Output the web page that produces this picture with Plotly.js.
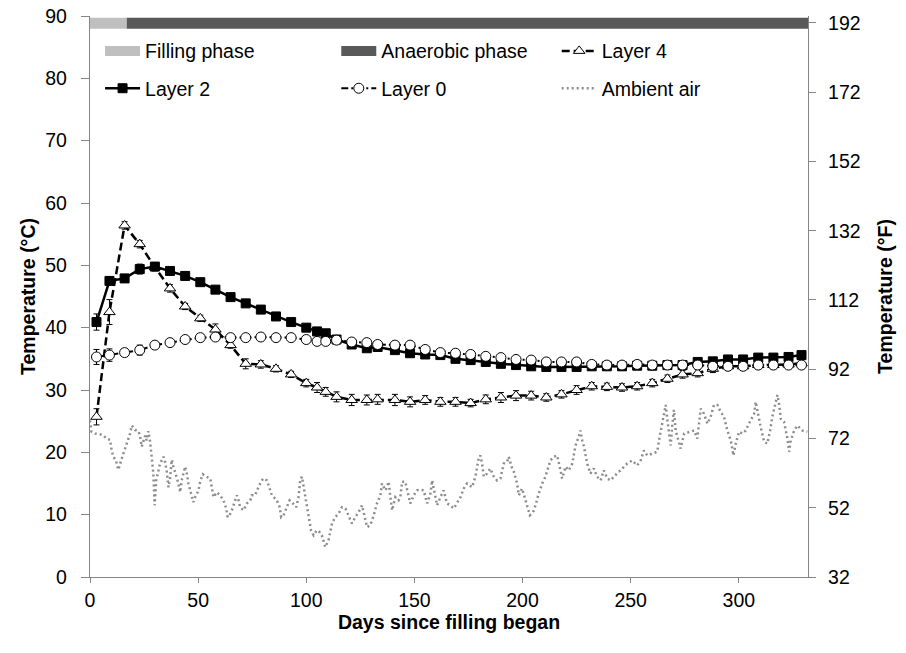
<!DOCTYPE html>
<html>
<head>
<meta charset="utf-8">
<script src="https://cdn.plot.ly/plotly-3.0.1.min.js"></script>
<style>html,body{margin:0;padding:0;background:#fff;}#chart{width:906px;height:653px;}</style>
</head>
<body>
<div id="chart"></div>
<script>
// ---- Data ----
const days = [3, 9, 16, 23, 30, 37, 44, 51, 58, 65, 72, 79, 86, 93, 100, 105, 109, 114, 121, 128,
  133, 141, 148, 155, 162, 169, 176, 183, 190, 197, 204, 211, 218, 225, 232, 239, 246, 253, 260, 267,
  274, 281, 288, 295, 302, 309, 316, 323, 329];

const layer4 = [25.7, 42.5, 56.4, 53.4, 49.7, 46.3, 43.4, 41.5, 39.7, 37.2, 34.2, 34.1, 33.4, 32.5, 31.1, 30.4, 29.7, 28.9, 28.4, 28.4,
  28.5, 28.4, 28.1, 28.4, 28.1, 28.1, 27.9, 28.5, 28.8, 29.1, 29.1, 28.8, 29.3, 30.0, 30.6, 30.5, 30.4, 30.6, 31.1, 31.8,
  32.5, 32.7, 33.4, 33.8, 33.8, 34.0, 34.0, 34.1, 34.3];
const layer4Err = [1.3, 2.0, 0.6, 0.6, 0.6, 0.6, 0.5, 0.5, 0.9, 0.5, 0.8, 0.6, 0.5, 0.5, 0.6, 0.8, 0.7, 0.8, 0.9, 0.8,
  0.8, 0.9, 0.8, 0.7, 0.7, 0.7, 0.6, 0.7, 0.8, 0.8, 0.7, 0.6, 0.6, 0.7, 0.6, 0.6, 0.6, 0.6, 0.6, 0.6,
  0.6, 0.6, 0.6, 0.6, 0.6, 0.6, 0.6, 0.6, 0.6];

const layer2 = [40.9, 47.5, 47.9, 49.4, 49.8, 49.1, 48.3, 47.3, 46.1, 44.9, 43.9, 42.9, 41.8, 40.9, 40.0, 39.4, 39.1, 38.1, 37.3, 36.7,
  36.9, 36.4, 35.9, 35.7, 35.6, 35.0, 34.8, 34.5, 34.2, 34.0, 33.8, 33.7, 33.7, 33.7, 33.8, 33.8, 33.8, 33.9, 33.9, 34.0,
  34.0, 34.5, 34.6, 34.9, 34.9, 35.2, 35.2, 35.3, 35.6];
const layer2Err = [1.3, 0.6, 0.4, 0.8, 0.6, 0.5, 0.4, 0.4, 0.4, 0.4, 0.4, 0.4, 0.4, 0.4, 0.4, 0.4, 0.4, 0.4, 0.4, 0.4,
  0.4, 0.4, 0.4, 0.4, 0.4, 0.4, 0.4, 0.4, 0.4, 0.4, 0.4, 0.4, 0.4, 0.4, 0.4, 0.4, 0.4, 0.4, 0.4, 0.4,
  0.4, 0.4, 0.4, 0.4, 0.4, 0.4, 0.4, 0.4, 0.6];

const layer0 = [35.3, 35.6, 36.0, 36.4, 37.2, 37.6, 38.1, 38.4, 38.5, 38.4, 38.4, 38.5, 38.4, 38.4, 38.1, 37.8, 37.8, 38.0, 37.7, 37.6,
  37.3, 37.2, 37.2, 36.5, 36.0, 35.9, 35.7, 35.4, 35.2, 34.9, 34.8, 34.5, 34.5, 34.5, 34.1, 34.0, 34.0, 34.1, 34.0, 34.0,
  34.0, 34.0, 33.8, 33.8, 33.8, 34.0, 34.0, 34.0, 34.0];
const layer0Err = [1.2, 1.0, 0.6, 0.8, 0.5, 0.6, 0.5, 0.5, 0.5, 0.5, 0.5, 0.5, 0.5, 0.5, 0.5, 0.5, 0.5, 0.5, 0.5, 0.5,
  0.5, 0.5, 0.5, 0.5, 0.5, 0.5, 0.5, 0.5, 0.5, 0.5, 0.5, 0.5, 0.5, 0.5, 0.5, 0.5, 0.5, 0.5, 0.5, 0.5,
  0.5, 0.5, 0.5, 0.5, 0.5, 0.5, 0.5, 0.5, 0.5];

const ambientDay = [0, 0.7, 2.3, 4.6, 6.2, 7.7, 9.3, 10.0, 10.8, 12.0, 13.1, 13.9, 15.4, 17.0, 18.5, 19.3, 20.8, 22.4, 23.1, 23.9,
  24.7, 25.5, 26.2, 27.0, 27.8, 28.5, 29.3, 29.6, 29.9, 30.6, 31.6, 32.4, 34.0, 34.7, 35.5, 36.3, 37.0, 37.8, 38.6, 39.3,
  40.1, 40.9, 41.7, 42.4, 44.0, 44.8, 45.5, 46.3, 47.8, 48.6, 50.2, 50.9, 52.2, 53.7, 55.6, 56.3, 57.1, 58.6, 60.2, 61.7,
  63.0, 63.6, 64.5, 65.6, 66.4, 67.9, 68.7, 69.4, 71.0, 72.5, 74.1, 74.8, 76.4, 77.2, 78.7, 80.0, 81.8, 82.6, 84.1, 86.4,
  87.7, 88.4, 89.5, 91.0, 92.3, 93.8, 95.4, 96.4, 97.2, 98.0, 98.8, 100.0, 101.1, 102.2, 103.4, 104.9, 106.2, 107.2, 108.8, 110.3,
  111.9, 113.4, 115.0, 116.5, 118.1, 119.6, 121.1, 122.7, 124.2, 125.8, 127.3, 128.1, 129.6, 131.2, 132.7, 134.3, 135.0, 136.6, 137.3, 138.1,
  138.9, 139.7, 141.2, 142.7, 143.5, 144.3, 145.8, 147.4, 148.1, 149.7, 151.2, 152.8, 154.3, 155.9, 157.4, 158.2, 158.9, 160.5,
  162.0, 163.5, 165.1, 166.6, 168.2, 169.7, 171.3, 172.8, 174.3, 176.7, 178.2, 179.7, 180.5, 181.3, 182.1, 183.6, 185.1, 186.7, 188.2, 189.8,
  191.3, 192.9, 193.6, 195.2, 196.0, 197.5, 198.3, 199.8, 201.4, 202.4, 203.4, 204.9, 206.0, 207.5, 209.1, 210.6, 211.4, 212.9, 214.5, 216.0,
  217.6, 218.3, 219.9, 221.4, 223.0, 223.7, 224.5, 226.0, 226.8, 227.6, 228.4, 229.9, 231.4, 233.0, 234.5, 236.1, 237.6, 239.2, 240.7, 242.2,
  243.8, 246.1, 248.4, 250.7, 253.0, 254.6, 256.1, 257.7, 260.0, 262.3, 263.1, 263.9, 265.4, 266.2, 266.9, 267.7, 268.5, 269.3, 270.0, 270.8,
  271.6, 273.1, 274.7, 277.0, 279.3, 280.8, 281.6, 282.4, 283.9, 285.5, 287.0, 288.5, 290.1, 291.6, 293.2, 294.7, 296.3, 297.5, 298.6, 300.1,
  301.7, 303.2, 304.7, 307.1, 307.8, 308.6, 310.1, 311.7, 313.2, 314.5, 315.5, 317.1, 317.9, 318.6, 319.4, 320.9, 322.5, 323.3, 324.0, 325.6,
  327.1, 329.4, 331.7];
const ambientT = [25.1, 23.3, 23.0, 22.9, 22.7, 22.2, 22.0, 20.3, 19.3, 18.7, 17.2, 18.2, 19.8, 21.4, 23.0, 24.3, 23.6, 23.4, 22.7, 20.9,
  21.7, 22.7, 21.9, 23.4, 21.7, 19.5, 16.6, 13.9, 11.5, 15.5, 17.1, 18.2, 19.3, 18.5, 16.9, 14.4, 15.8, 18.8, 17.7, 16.9,
  16.3, 15.0, 13.6, 15.5, 17.7, 16.6, 15.0, 13.9, 12.0, 12.8, 13.9, 15.3, 16.5, 16.1, 15.8, 14.4, 12.8, 13.6, 13.1, 12.3,
  11.0, 9.6, 9.9, 10.7, 11.5, 13.1, 12.3, 11.2, 10.7, 11.8, 12.3, 13.1, 13.1, 13.9, 15.0, 15.8, 15.5, 14.7, 13.1, 12.3,
  11.2, 9.6, 9.9, 11.2, 12.3, 11.8, 11.2, 12.8, 15.5, 16.1, 14.4, 11.8, 9.6, 7.5, 6.7, 7.5, 7.2, 6.7, 4.8, 5.9,
  8.6, 9.6, 10.2, 11.2, 11.0, 9.9, 8.6, 9.6, 10.4, 11.5, 9.1, 8.0, 8.3, 9.9, 11.8, 13.1, 15.0, 13.9, 14.4, 15.3,
  12.8, 10.7, 12.8, 12.3, 12.8, 15.3, 15.3, 12.8, 11.8, 13.1, 13.9, 14.0, 13.9, 11.8, 13.4, 15.5, 14.2, 11.5,
  12.8, 13.9, 11.8, 11.5, 11.0, 11.8, 12.8, 14.2, 15.0, 14.4, 16.1, 19.0, 19.5, 18.2, 16.1, 16.6, 17.4, 16.1, 15.5, 15.8,
  18.2, 18.5, 19.3, 17.4, 16.9, 15.0, 13.1, 14.2, 12.3, 11.2, 9.9, 10.4, 11.5, 13.4, 15.0, 16.1, 17.1, 18.7, 19.3, 19.5,
  17.1, 15.8, 17.7, 17.1, 18.2, 19.3, 21.1, 22.5, 23.5, 21.9, 20.9, 18.2, 16.6, 17.4, 16.1, 15.5, 17.1, 15.8, 15.5, 16.1,
  16.6, 17.4, 18.2, 18.7, 17.9, 18.7, 20.3, 19.5, 19.8, 20.1, 21.9, 23.5, 26.2, 27.6, 25.4, 23.0, 21.1, 24.6, 26.8, 23.5,
  22.5, 20.6, 23.0, 23.3, 23.5, 22.2, 24.6, 27.0, 26.2, 24.6, 25.7, 27.6, 27.6, 26.5, 25.7, 23.5, 21.9, 19.5, 21.4, 23.3,
  23.0, 23.5, 24.6, 26.2, 28.1, 26.5, 24.1, 21.7, 21.4, 23.5, 25.7, 28.1, 29.2, 27.8, 25.4, 24.9, 22.2, 20.1, 21.9, 23.5,
  24.3, 23.5, 23.3];

// Phase bars (drawn against the °F axis)
const phaseNames = ['Filling phase', 'Anaerobic phase'];
const phaseStart = [0, 17];
const phaseEnd = [17, 332];
const phaseLevelF = 191.9;

// ---- Chart ----
const font = 'Liberation Sans, Arial, sans-serif';
const errStyle = (arr) => ({type: 'data', array: arr, visible: true, color: '#000', thickness: 1, width: 3});

const traces = [
  {x: ambientDay, y: ambientT, name: 'Ambient air', mode: 'lines', type: 'scatter',
   line: {color: '#8c8c8c', width: 2.5, dash: '2px,3px'}, legend: 'legend3', legendgroup: 'g6', legendrank: 2},
  {x: days, y: layer4, name: 'Layer 4', mode: 'lines+markers', type: 'scatter',
   line: {color: '#000', width: 2.5, dash: '8px,4px'},
   marker: {symbol: 'triangle-up', size: 10, color: '#fff', line: {color: '#000', width: 1}},
   error_y: errStyle(layer4Err), legend: 'legend3', legendgroup: 'g3', legendrank: 1},
  {x: days, y: layer2, name: 'Layer 2', mode: 'lines+markers', type: 'scatter',
   line: {color: '#000', width: 2.5},
   marker: {symbol: 'square', size: 9, color: '#000', line: {color: '#000', width: 1}},
   error_y: errStyle(layer2Err), legend: 'legend', legendgroup: 'g4', legendrank: 2},
  {x: days, y: layer0, name: 'Layer 0', mode: 'lines+markers', type: 'scatter',
   line: {color: '#000', width: 2, dash: '7px,3px,2px,3px'},
   marker: {symbol: 'circle', size: 10, color: '#fff', line: {color: '#000', width: 1}},
   error_y: errStyle(layer0Err), legend: 'legend2', legendgroup: 'g5', legendrank: 2},
  {x: [phaseStart[0], phaseEnd[0]], y: [phaseLevelF, phaseLevelF], yaxis: 'y2', name: phaseNames[0], mode: 'lines', type: 'scatter',
   line: {color: '#bfbfbf', width: 11}, legend: 'legend', legendgroup: 'g1', legendrank: 1},
  {x: [phaseStart[1], phaseEnd[1]], y: [phaseLevelF, phaseLevelF], yaxis: 'y2', name: phaseNames[1], mode: 'lines', type: 'scatter',
   line: {color: '#595959', width: 11}, legend: 'legend2', legendgroup: 'g2', legendrank: 1}
];

const legendBase = {
  orientation: 'v', yanchor: 'top', xanchor: 'left', y: 0.972,
  font: {family: font, size: 19.5, color: '#000'}, bgcolor: 'rgba(0,0,0,0)',
  traceorder: 'grouped', tracegroupgap: 9, itemwidth: 35, borderwidth: 0
};

const axisCommon = {
  showgrid: false, zeroline: false, showline: true, linecolor: '#868686', linewidth: 1.3,
  ticks: 'outside', ticklen: 7, tickcolor: '#868686', tickwidth: 1,
  tickfont: {family: font, size: 19.5, color: '#000'}
};
const titleFont = {family: font, size: 19.5, weight: 'bold', color: '#000'};

const layout = {
  width: 906, height: 653,
  margin: {l: 90, r: 98, t: 16, b: 76},
  paper_bgcolor: '#fff', plot_bgcolor: '#fff',
  font: {family: font, size: 19.5, color: '#000'},
  showlegend: true,
  xaxis: Object.assign({}, axisCommon, {
    range: [0, 332], tick0: 0, dtick: 50, ticklen: 5,
    title: {text: 'Days since filling began', font: titleFont, standoff: 4}
  }),
  yaxis: Object.assign({}, axisCommon, {
    range: [0, 90], tick0: 0, dtick: 10, ticklen: 8, ticklabelstandoff: 10,
    title: {text: 'Temperature (°C)', font: titleFont, standoff: 4}
  }),
  yaxis2: Object.assign({}, axisCommon, {
    overlaying: 'y', side: 'right', anchor: 'x',
    range: [32, 194], tick0: 32, dtick: 20, ticklabelstandoff: 8,
    title: {text: 'Temperature (°F)', font: titleFont, standoff: 18}
  }),
  legend: Object.assign({}, legendBase, {x: 0.014}),
  legend2: Object.assign({}, legendBase, {x: 0.343}),
  legend3: Object.assign({}, legendBase, {x: 0.650})
};

Plotly.newPlot('chart', traces, layout, {displayModeBar: false, responsive: false});
</script>
</body>
</html>
